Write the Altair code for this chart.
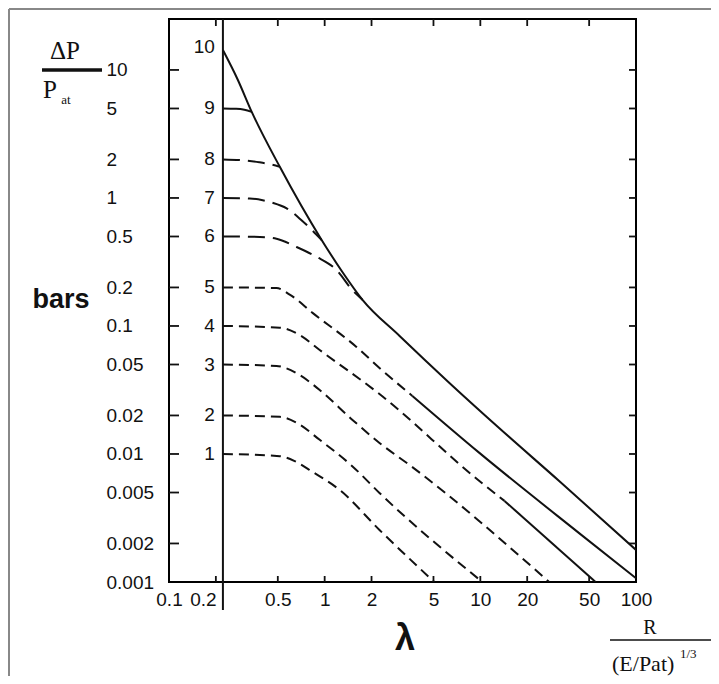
import altair as alt
import pandas as pd

W, H = 467, 563

# ---- axis ticks / labels ----
x_ticks = [0.1, 0.2, 0.5, 1, 2, 5, 10, 20, 50, 100]
y_ticks = [10, 5, 2, 1, 0.5, 0.2, 0.1, 0.05, 0.02, 0.01, 0.005, 0.002, 0.001]
inner_x_ticks = [0.2, 0.5, 1, 2, 5, 10, 20, 50]
inner_y_ticks = [10, 5, 2, 1, 0.5, 0.2, 0.1, 0.05, 0.02, 0.01, 0.005, 0.002]
start_lam = 0.222

# ---- curves (lambda, dP/Pat) ----
env_lam = [0.222, 0.277, 0.34, 0.515, 0.956, 1.30, 1.75, 3.03, 6.33, 13.2, 32.1, 100]
env_p = [14.3, 8.35, 4.7, 1.75, 0.47, 0.264, 0.160, 0.0835, 0.0359, 0.01596, 0.00615, 0.00178]

c9_lam = [0.222, 0.27, 0.305, 0.34]
c9_p = [5.0, 4.97, 4.88, 4.7]

c8_lam = [0.222, 0.30, 0.38, 0.45, 0.515]
c8_p = [2.0, 1.97, 1.9, 1.83, 1.75]

c7_lam = [0.222, 0.33, 0.40, 0.46, 0.57, 0.71, 0.956]
c7_p = [1.0, 0.99, 0.96, 0.92, 0.83, 0.67, 0.47]

c6_lam = [0.222, 0.383, 0.49, 0.66, 0.89, 1.19, 1.51, 1.75]
c6_p = [0.5, 0.496, 0.48, 0.414, 0.346, 0.274, 0.19, 0.16]

c5_dash_lam = [0.222, 0.49, 0.60, 0.84, 1.6, 2.25, 3.66]
c5_dash_p = [0.2, 0.198, 0.175, 0.126, 0.0686, 0.047, 0.0284]
c5_solid_lam = [3.66, 9.86, 43.1, 100]
c5_solid_p = [0.0284, 0.0102, 0.00241, 0.00107]

c4_dash_lam = [0.222, 0.515, 0.69, 0.929, 2.25, 9.86, 14.3]
c4_dash_p = [0.1, 0.097, 0.0851, 0.0649, 0.0294, 0.00615, 0.0043]
c4_solid_lam = [14.3, 55]
c4_solid_p = [0.0043, 0.001]

c3_lam = [0.222, 0.49, 0.69, 0.929, 1.51, 2.25, 3.66, 27.7]
c3_p = [0.05, 0.0487, 0.0414, 0.0316, 0.01845, 0.0122, 0.0079, 0.001]

c2_lam = [0.222, 0.515, 0.662, 0.929, 1.51, 2.25, 10.3]
c2_p = [0.02, 0.0195, 0.0175, 0.0129, 0.0080, 0.00496, 0.001]

c1_lam = [0.222, 0.515, 0.642, 0.838, 1.25, 2.25, 5.06]
c1_p = [0.01, 0.0096, 0.0088, 0.00723, 0.00523, 0.00255, 0.001]

curve_labels = ["1", "2", "3", "4", "5", "6", "7", "8", "9", "10"]
label_p = [0.01, 0.02, 0.05, 0.1, 0.2, 0.5, 1, 2, 5, 15]

rows = []


def add(curve, seg, style, lams, ps):
    for i, (l, p) in enumerate(zip(lams, ps)):
        rows.append(dict(curve=curve, seg=f"{curve}-{seg}", style=style, lam=l, p=p, i=i))


add("10", "a", "solid", env_lam, env_p)
add("9", "a", "solid", c9_lam, c9_p)
add("8", "a", "long", c8_lam, c8_p)
add("7", "a", "long", c7_lam, c7_p)
add("6", "a", "long", c6_lam, c6_p)
add("5", "a", "short", c5_dash_lam, c5_dash_p)
add("5", "b", "solid", c5_solid_lam, c5_solid_p)
add("4", "a", "short", c4_dash_lam, c4_dash_p)
add("4", "b", "solid", c4_solid_lam, c4_solid_p)
add("3", "a", "short", c3_lam, c3_p)
add("2", "a", "short", c2_lam, c2_p)
add("1", "a", "short", c1_lam, c1_p)
df = pd.DataFrame(rows)

xs = alt.Scale(type="log", domain=[0.1, 100])
ys = alt.Scale(type="log", domain=[0.001, 25])
INK = "#111111"
SANS = "Liberation Sans"
SERIF = "Liberation Serif"

xaxis = alt.Axis(
    values=x_ticks, labelExpr="'' + datum.value", title=None, domain=False,
    ticks=False, grid=False, labelPadding=8, labelFont=SANS,
    labelFontSize=19, labelColor=INK, labelFlush=False, labelOverlap=False,
    labelOffset={"condition": {"test": "datum.value == 0.2", "value": -13}, "value": 0},
)
yaxis = alt.Axis(
    values=y_ticks, labelExpr="'' + datum.value", title=None, domain=False,
    ticks=False, grid=False, labelPadding=63, labelAlign="left",
    labelBaseline="middle", labelFont=SANS, labelFontSize=19, labelColor=INK,
    labelFlush=False, labelOverlap=False,
)

X = alt.X("lam:Q", scale=xs, axis=xaxis)
Y = alt.Y("p:Q", scale=ys, axis=yaxis)


def lines(style, dash):
    kw = dict(color=INK, strokeWidth=2, interpolate="monotone", clip=True)
    if dash:
        kw["strokeDash"] = dash
    return alt.Chart(df).transform_filter(f"datum.style == '{style}'").mark_line(**kw).encode(
        x=X, y=Y, detail="seg:N", order="i:Q",
    )


solid = lines("solid", None)
longd = lines("long", [17, 8])
shortd = lines("short", [10, 6])

ytk = pd.DataFrame({"p": inner_y_ticks})
xtk = pd.DataFrame({"lam": inner_x_ticks})
tick_kw = dict(color=INK, strokeWidth=1.8)
left_ticks = alt.Chart(ytk).mark_rule(**tick_kw).encode(y=Y, x=alt.value(0), x2=alt.value(10))
right_ticks = alt.Chart(ytk).mark_rule(**tick_kw).encode(y=Y, x=alt.value(W - 7), x2=alt.value(W))
bottom_ticks = alt.Chart(xtk).mark_rule(**tick_kw).encode(x=X, y=alt.value(H - 6), y2=alt.value(H))
top_ticks = alt.Chart(xtk).mark_rule(**tick_kw).encode(x=X, y=alt.value(0), y2=alt.value(7))

vline = alt.Chart(pd.DataFrame({"lam": [start_lam]})).mark_rule(color=INK, strokeWidth=2).encode(
    x=X, y=alt.value(0), y2=alt.value(H + 28))

lab_df = pd.DataFrame({"t": curve_labels, "p": label_p, "lam": [start_lam] * len(curve_labels)})
curve_text = alt.Chart(lab_df).mark_text(
    align="right", baseline="middle", dx=-8, font=SANS, fontSize=19, color=INK
).encode(x=X, y=Y, text="t:N")

one = pd.DataFrame({"a": [0]})


def note(text, x, y, size, font=SERIF, weight="normal", align="center", baseline="middle"):
    return alt.Chart(pd.DataFrame({"t": [text]})).mark_text(
        font=font, fontSize=size, fontWeight=weight, align=align, baseline=baseline, color=INK
    ).encode(x=alt.value(x), y=alt.value(y), text="t:N")


bar = alt.Chart(pd.DataFrame({"p": [10]})).mark_rule(color=INK, strokeWidth=3.5).encode(
    y=Y, x=alt.value(-127), x2=alt.value(-67))

frac = alt.Chart(one).mark_rule(color=INK, strokeWidth=1.5).encode(
    x=alt.value(441), x2=alt.value(545), y=alt.value(621))

border_top = alt.Chart(one).mark_rule(color="#888888", strokeWidth=2).encode(
    x=alt.value(-160), x2=alt.value(W + 75), y=alt.value(-10))
border_left = alt.Chart(one).mark_rule(color="#888888", strokeWidth=2).encode(
    x=alt.value(-160), y=alt.value(-10), y2=alt.value(H + 94))

notes = [
    note("ΔP", -104, 32, 25),
    note("P", -119, 71, 25),
    note("at", -103, 81, 13),
    note("bars", -108, 289, 27, font=SANS, weight="bold", baseline="alphabetic"),
    note("λ", 236, 620, 36, font=SANS, weight="bold"),
    note("R", 481, 609, 20),
    note("(E/Pat)", 443, 645, 22, align="left"),
    note("1/3", 511, 635, 13, align="left"),
]

chart = alt.layer(
    solid, longd, shortd, border_top, border_left,
    left_ticks, right_ticks, bottom_ticks, top_ticks, vline, curve_text, bar, frac, *notes
).properties(
    width=W, height=H,
    padding={"left": 161, "top": 11, "right": 75, "bottom": 94},
    autosize=alt.AutoSizeParams(type="none"),
    background="white",
).configure_view(stroke="black", strokeWidth=2)

chart.save("out.html", embed_options={"renderer": "svg", "actions": False})
